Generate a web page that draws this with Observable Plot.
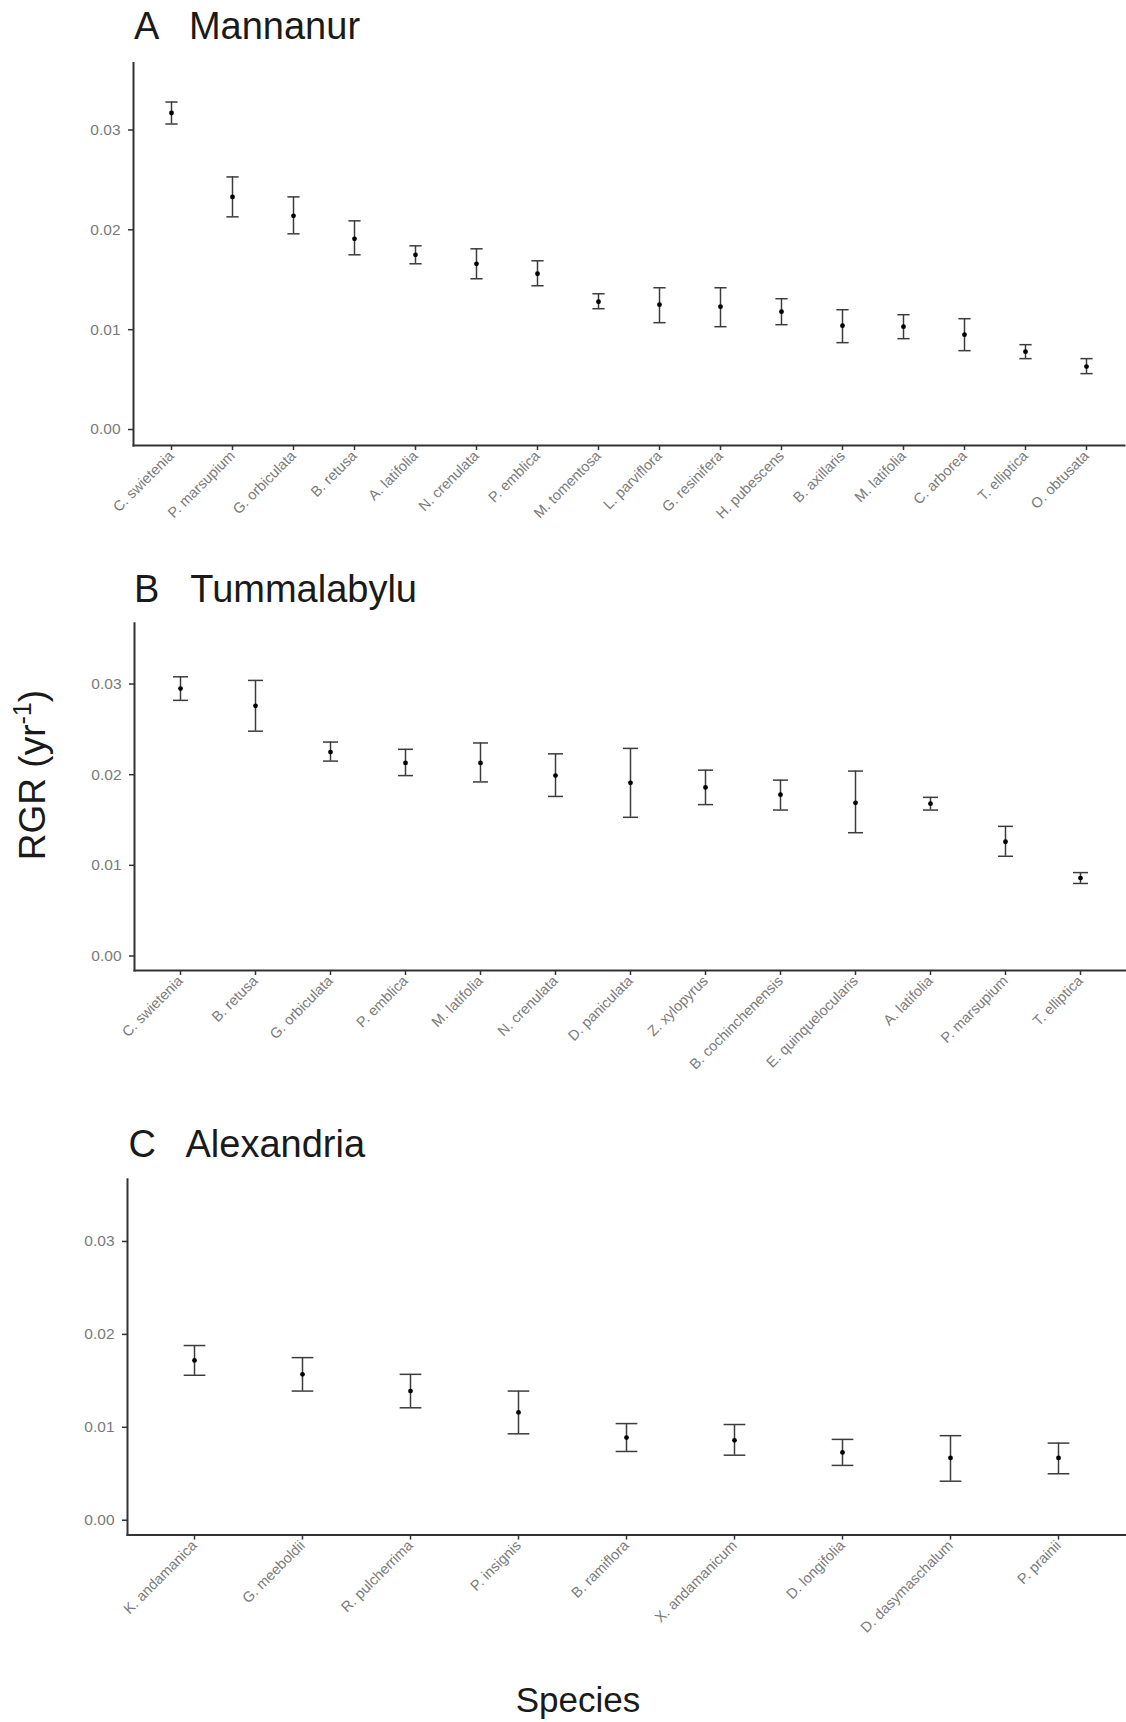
<!DOCTYPE html>
<html>
<head>
<meta charset="utf-8">
<script src="https://cdn.jsdelivr.net/npm/d3@7"></script>
<script src="https://cdn.jsdelivr.net/npm/@observablehq/plot@0.6"></script>
<style>
  body { margin: 0; background: #fff; }
  #wrap { position: relative; width: 1126px; height: 1722px; overflow: hidden; background: #fff;
          font-family: "Liberation Sans", Arial, sans-serif; }
  #wrap svg.panel { position: absolute; left: 0; }
  #overlay { position: absolute; left: 0; top: 0; pointer-events: none; }
</style>
</head>
<body>
<div id="wrap"></div>
<script>
// ---------- DATA ----------
const yTicks = [0, 0.01, 0.02, 0.03];

const speciesA = ["C. swietenia", "P. marsupium", "G. orbiculata", "B. retusa", "A. latifolia", "N. crenulata",
  "P. emblica", "M. tomentosa", "L. parviflora", "G. resinifera", "H. pubescens", "B. axillaris",
  "M. latifolia", "C. arborea", "T. elliptica", "O. obtusata"];
const meanA = [0.0317, 0.0233, 0.0214, 0.0191, 0.0175, 0.0166, 0.0156, 0.0128, 0.0125, 0.0123, 0.0118, 0.0104, 0.0103, 0.0095, 0.0078, 0.0063];
const lowA  = [0.0306, 0.0213, 0.0196, 0.0175, 0.0166, 0.0151, 0.0144, 0.0121, 0.0107, 0.0103, 0.0105, 0.0087, 0.0091, 0.0079, 0.0071, 0.0056];
const highA = [0.0328, 0.0253, 0.0233, 0.0209, 0.0184, 0.0181, 0.0169, 0.0136, 0.0142, 0.0142, 0.0131, 0.0120, 0.0115, 0.0111, 0.0085, 0.0071];

const speciesB = ["C. swietenia", "B. retusa", "G. orbiculata", "P. emblica", "M. latifolia", "N. crenulata",
  "D. paniculata", "Z. xylopyrus", "B. cochinchenensis", "E. quinquelocularis", "A. latifolia", "P. marsupium", "T. elliptica"];
const meanB = [0.0295, 0.0276, 0.0225, 0.0213, 0.0213, 0.0199, 0.0191, 0.0186, 0.0178, 0.0169, 0.0168, 0.0126, 0.0086];
const lowB  = [0.0282, 0.0248, 0.0215, 0.0199, 0.0192, 0.0176, 0.0153, 0.0167, 0.0161, 0.0136, 0.0161, 0.0110, 0.0080];
const highB = [0.0308, 0.0304, 0.0236, 0.0228, 0.0235, 0.0223, 0.0229, 0.0205, 0.0194, 0.0204, 0.0175, 0.0143, 0.0092];

const speciesC = ["K. andamanica", "G. meeboldii", "R. pulcherrima", "P. insignis", "B. ramiflora",
  "X. andamanicum", "D. longifolia", "D. dasymaschalum", "P. prainii"];
const meanC = [0.0172, 0.0157, 0.0139, 0.0116, 0.0089, 0.0086, 0.0073, 0.0067, 0.0067];
const lowC  = [0.0156, 0.0139, 0.0121, 0.0093, 0.0074, 0.0070, 0.0059, 0.0042, 0.0050];
const highC = [0.0188, 0.0175, 0.0157, 0.0139, 0.0104, 0.0103, 0.0087, 0.0091, 0.0083];

const panelTitles = ["A   Mannanur", "B   Tummalabylu", "C   Alexandria"];
const yLabelMain = "RGR (yr";
const yLabelSup = "-1";
const xLabel = "Species";

// ---------- LAYOUT ----------
const W = 1126;
const yDomain = [-0.0016, 0.0367];
const panels = [
  {species: speciesA, mean: meanA, low: lowA, high: highA, top: 0,    h: 540, mt: 62.6, mb: 95,    ml: 133, mr: 2, titleX: 134,   titleY: 38.5},
  {species: speciesB, mean: meanB, low: lowB, high: highB, top: 540,  h: 540, mt: 82.8, mb: 110,   ml: 134, mr: 1, titleX: 134,   titleY: 602},
  {species: speciesC, mean: meanC, low: lowC, high: highC, top: 1080, h: 620, mt: 98.7, mb: 165.4, ml: 127, mr: 1, titleX: 128.5, titleY: 1157}
];

const wrap = document.getElementById("wrap");
const axisColor = "#333333";
const labelGray = "#7a7a7a";
const barColor = "#3c3c3c";

// horizontal cap symbol for error-bar ends (half-width = r)
const capSymbol = {
  draw(context, size) {
    const w = Math.sqrt(size / Math.PI);
    context.moveTo(-w, 0);
    context.lineTo(w, 0);
  }
};

panels.forEach(cfg => {
  const data = cfg.species.map((s, i) => ({sp: s, m: cfg.mean[i], lo: cfg.low[i], hi: cfg.high[i]}));
  const innerW = W - cfg.ml - cfg.mr;
  const step = innerW / (cfg.species.length - 1 + 2 * 0.6);
  const capHalf = 0.1 * step;
  const svg = Plot.plot({
    width: W, height: cfg.h,
    marginTop: cfg.mt, marginBottom: cfg.mb, marginLeft: cfg.ml, marginRight: cfg.mr,
    style: {fontFamily: "'Liberation Sans', Arial, sans-serif", background: "transparent", overflow: "visible"},
    x: {type: "point", domain: cfg.species, padding: 0.6, label: null},
    y: {domain: yDomain, label: null},
    marks: [
      Plot.axisY({ticks: yTicks, tickFormat: d3.format(".2f"), tickSize: 5, tickPadding: 8,
        fontSize: 15.5, stroke: axisColor, strokeWidth: 1.5, fill: labelGray, label: null}),
      Plot.axisX({tickSize: 5, tickPadding: 3, tickRotate: -45, fontSize: 14.5,
        stroke: axisColor, strokeWidth: 1.5, fill: labelGray, label: null}),
      Plot.frame({anchor: "left", stroke: axisColor, strokeWidth: 2}),
      Plot.frame({anchor: "bottom", stroke: axisColor, strokeWidth: 2}),
      Plot.ruleX(data, {x: "sp", y1: "lo", y2: "hi", stroke: barColor, strokeWidth: 1.5}),
      Plot.dot(data, {x: "sp", y: "lo", symbol: capSymbol, r: capHalf, fill: "none", stroke: barColor, strokeWidth: 1.5}),
      Plot.dot(data, {x: "sp", y: "hi", symbol: capSymbol, r: capHalf, fill: "none", stroke: barColor, strokeWidth: 1.5}),
      Plot.dot(data, {x: "sp", y: "m", r: 2.4, fill: "#000"})
    ]
  });
  svg.classList.add("panel");
  svg.style.top = cfg.top + "px";
  wrap.appendChild(svg);
});

// ---------- OVERLAY TEXT ----------
const ov = d3.select(wrap).append("svg").attr("id", "overlay")
  .attr("width", W).attr("height", 1722)
  .style("font-family", "'Liberation Sans', Arial, sans-serif");

panels.forEach((cfg, i) => {
  ov.append("text").attr("x", cfg.titleX).attr("y", cfg.titleY)
    .attr("font-size", 38).attr("fill", "#1a1a1a")
    .style("white-space", "pre").attr("xml:space", "preserve")
    .text(panelTitles[i]);
});

const yl = ov.append("text").attr("transform", "translate(45,775) rotate(-90)")
  .attr("text-anchor", "middle").attr("font-size", 37).attr("fill", "#1a1a1a");
yl.append("tspan").text(yLabelMain);
yl.append("tspan").attr("dy", "-0.55em").attr("font-size", "0.68em").text(yLabelSup);
yl.append("tspan").attr("dy", "0.374em").text(")");

ov.append("text").attr("x", 578).attr("y", 1712).attr("text-anchor", "middle")
  .attr("font-size", 35).attr("fill", "#1a1a1a").text(xLabel);
</script>
</body>
</html>
